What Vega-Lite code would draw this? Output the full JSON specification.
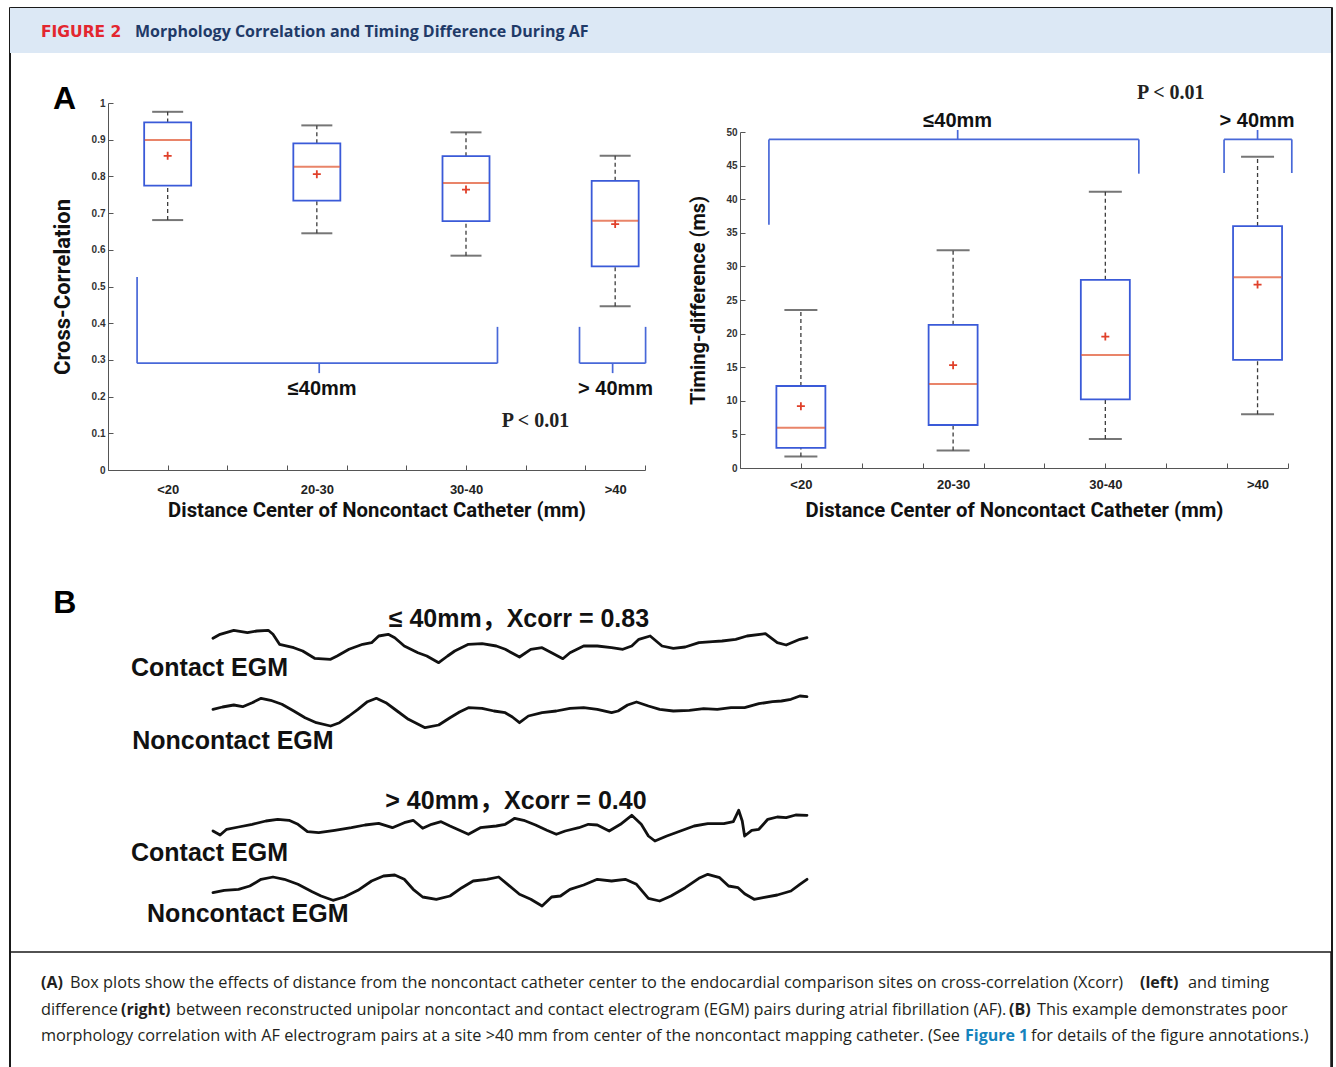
{
  "$schema": "https://vega.github.io/schema/vega-lite/v6.json",
  "padding": {"left": 8, "top": 6, "right": 0, "bottom": 0},
  "background": "white",
  "config": {"view": {"stroke": null}, "font": "Roboto", "scale": {"continuousPadding": 0}},
  "datasets": {
    "xcorr": [
      {"pos": 1, "lo": 0.681, "q1": 0.775, "med": 0.899, "q3": 0.947, "hi": 0.976, "mean": 0.856},
      {"pos": 2, "lo": 0.645, "q1": 0.734, "med": 0.826, "q3": 0.890, "hi": 0.939, "mean": 0.806},
      {"pos": 3, "lo": 0.584, "q1": 0.678, "med": 0.782, "q3": 0.855, "hi": 0.920, "mean": 0.764},
      {"pos": 4, "lo": 0.446, "q1": 0.555, "med": 0.679, "q3": 0.788, "hi": 0.856, "mean": 0.670}
    ],
    "timing": [
      {"pos": 1, "lo": 1.7, "q1": 3.0, "med": 6.0, "q3": 12.2, "hi": 23.5, "mean": 9.2},
      {"pos": 2, "lo": 2.6, "q1": 6.4, "med": 12.5, "q3": 21.3, "hi": 32.4, "mean": 15.3},
      {"pos": 3, "lo": 4.3, "q1": 10.2, "med": 16.8, "q3": 28.0, "hi": 41.1, "mean": 19.55},
      {"pos": 4, "lo": 8.0, "q1": 16.1, "med": 28.4, "q3": 36.0, "hi": 46.3, "mean": 27.3}
    ],
    "bracketL": [
      {"x1": 0.795, "x2": 0.795, "y1": 0.526, "y2": 0.291},
      {"x1": 0.795, "x2": 3.211, "y1": 0.291, "y2": 0.291},
      {"x1": 3.211, "x2": 3.211, "y1": 0.291, "y2": 0.39},
      {"x1": 2.016, "x2": 2.016, "y1": 0.291, "y2": 0.264},
      {"x1": 3.761, "x2": 3.761, "y1": 0.39, "y2": 0.291},
      {"x1": 3.761, "x2": 4.204, "y1": 0.291, "y2": 0.291},
      {"x1": 4.204, "x2": 4.204, "y1": 0.291, "y2": 0.39},
      {"x1": 3.983, "x2": 3.983, "y1": 0.291, "y2": 0.264}
    ],
    "bracketR": [
      {"x1": 0.79, "x2": 0.79, "y1": 36.2, "y2": 48.9},
      {"x1": 0.79, "x2": 3.22, "y1": 48.9, "y2": 48.9},
      {"x1": 3.22, "x2": 3.22, "y1": 48.9, "y2": 43.8},
      {"x1": 2.03, "x2": 2.03, "y1": 48.9, "y2": 50.3},
      {"x1": 3.78, "x2": 3.78, "y1": 43.9, "y2": 48.9},
      {"x1": 3.78, "x2": 4.225, "y1": 48.9, "y2": 48.9},
      {"x1": 4.225, "x2": 4.225, "y1": 48.9, "y2": 43.9},
      {"x1": 4.0, "x2": 4.0, "y1": 48.9, "y2": 50.3}
    ],
    "egm": [
      {"trace": "c1", "t": 0, "v": 31.37}, {"trace": "c1", "t": 1.2, "v": 31.77}, {"trace": "c1", "t": 3.5, "v": 32.17}, {"trace": "c1", "t": 5.8, "v": 31.93}, {"trace": "c1", "t": 7.4, "v": 32.1}, {"trace": "c1", "t": 9.3, "v": 32.17}, {"trace": "c1", "t": 10.1, "v": 31.77}, {"trace": "c1", "t": 11.2, "v": 30.77}, {"trace": "c1", "t": 13.6, "v": 30.43}, {"trace": "c1", "t": 15.1, "v": 30.1}, {"trace": "c1", "t": 17.1, "v": 29.37}, {"trace": "c1", "t": 19.8, "v": 29.27}, {"trace": "c1", "t": 20.9, "v": 29.6}, {"trace": "c1", "t": 22.9, "v": 30.27}, {"trace": "c1", "t": 25.2, "v": 30.77}, {"trace": "c1", "t": 26.7, "v": 30.93}, {"trace": "c1", "t": 27.9, "v": 31.6}, {"trace": "c1", "t": 29.5, "v": 31.77}, {"trace": "c1", "t": 30.6, "v": 31.43}, {"trace": "c1", "t": 32.2, "v": 30.6}, {"trace": "c1", "t": 34.5, "v": 29.93}, {"trace": "c1", "t": 36.0, "v": 29.6}, {"trace": "c1", "t": 38.0, "v": 28.93}, {"trace": "c1", "t": 39.5, "v": 29.6}, {"trace": "c1", "t": 40.7, "v": 30.1}, {"trace": "c1", "t": 43.0, "v": 30.77}, {"trace": "c1", "t": 45.3, "v": 30.83}, {"trace": "c1", "t": 47.7, "v": 30.6}, {"trace": "c1", "t": 49.2, "v": 30.27}, {"trace": "c1", "t": 51.6, "v": 29.5}, {"trace": "c1", "t": 53.5, "v": 30.27}, {"trace": "c1", "t": 55.4, "v": 30.43}, {"trace": "c1", "t": 57.0, "v": 29.93}, {"trace": "c1", "t": 58.9, "v": 29.33}, {"trace": "c1", "t": 60.1, "v": 29.93}, {"trace": "c1", "t": 62.4, "v": 30.6}, {"trace": "c1", "t": 64.7, "v": 30.6}, {"trace": "c1", "t": 67.1, "v": 30.43}, {"trace": "c1", "t": 69.0, "v": 30.27}, {"trace": "c1", "t": 70.5, "v": 30.6}, {"trace": "c1", "t": 71.7, "v": 31.27}, {"trace": "c1", "t": 73.6, "v": 31.6}, {"trace": "c1", "t": 75.6, "v": 30.6}, {"trace": "c1", "t": 77.5, "v": 30.37}, {"trace": "c1", "t": 79.5, "v": 30.5}, {"trace": "c1", "t": 81.8, "v": 30.93}, {"trace": "c1", "t": 84.1, "v": 31.03}, {"trace": "c1", "t": 85.7, "v": 31.1}, {"trace": "c1", "t": 88.0, "v": 31.27}, {"trace": "c1", "t": 89.9, "v": 31.6}, {"trace": "c1", "t": 93.0, "v": 31.83}, {"trace": "c1", "t": 95.0, "v": 30.93}, {"trace": "c1", "t": 96.5, "v": 30.7}, {"trace": "c1", "t": 98.8, "v": 31.27}, {"trace": "c1", "t": 100, "v": 31.43},
      {"trace": "n1", "t": 0, "v": 24.27}, {"trace": "n1", "t": 1.6, "v": 24.5}, {"trace": "n1", "t": 3.5, "v": 24.7}, {"trace": "n1", "t": 5.0, "v": 24.53}, {"trace": "n1", "t": 6.6, "v": 24.93}, {"trace": "n1", "t": 8.1, "v": 25.37}, {"trace": "n1", "t": 9.7, "v": 25.17}, {"trace": "n1", "t": 11.6, "v": 24.77}, {"trace": "n1", "t": 13.6, "v": 24.1}, {"trace": "n1", "t": 15.5, "v": 23.43}, {"trace": "n1", "t": 17.4, "v": 22.93}, {"trace": "n1", "t": 19.8, "v": 22.6}, {"trace": "n1", "t": 21.3, "v": 22.93}, {"trace": "n1", "t": 22.9, "v": 23.6}, {"trace": "n1", "t": 24.4, "v": 24.27}, {"trace": "n1", "t": 26.0, "v": 25.03}, {"trace": "n1", "t": 27.5, "v": 25.37}, {"trace": "n1", "t": 29.1, "v": 24.93}, {"trace": "n1", "t": 31.0, "v": 24.1}, {"trace": "n1", "t": 32.9, "v": 23.27}, {"trace": "n1", "t": 35.7, "v": 22.43}, {"trace": "n1", "t": 38.0, "v": 22.7}, {"trace": "n1", "t": 39.9, "v": 23.43}, {"trace": "n1", "t": 41.5, "v": 24.0}, {"trace": "n1", "t": 43.0, "v": 24.43}, {"trace": "n1", "t": 45.3, "v": 24.37}, {"trace": "n1", "t": 47.3, "v": 24.1}, {"trace": "n1", "t": 49.2, "v": 23.93}, {"trace": "n1", "t": 50.4, "v": 23.5}, {"trace": "n1", "t": 51.6, "v": 22.93}, {"trace": "n1", "t": 53.1, "v": 23.6}, {"trace": "n1", "t": 55.4, "v": 23.93}, {"trace": "n1", "t": 57.8, "v": 24.1}, {"trace": "n1", "t": 60.1, "v": 24.37}, {"trace": "n1", "t": 62.4, "v": 24.43}, {"trace": "n1", "t": 64.7, "v": 24.27}, {"trace": "n1", "t": 67.1, "v": 23.93}, {"trace": "n1", "t": 68.2, "v": 24.1}, {"trace": "n1", "t": 69.8, "v": 24.7}, {"trace": "n1", "t": 71.3, "v": 25.0}, {"trace": "n1", "t": 73.3, "v": 24.6}, {"trace": "n1", "t": 75.2, "v": 24.27}, {"trace": "n1", "t": 77.5, "v": 24.1}, {"trace": "n1", "t": 80.2, "v": 24.17}, {"trace": "n1", "t": 82.6, "v": 24.33}, {"trace": "n1", "t": 84.9, "v": 24.27}, {"trace": "n1", "t": 87.2, "v": 24.43}, {"trace": "n1", "t": 89.5, "v": 24.43}, {"trace": "n1", "t": 91.9, "v": 24.83}, {"trace": "n1", "t": 94.2, "v": 25.03}, {"trace": "n1", "t": 95.7, "v": 25.1}, {"trace": "n1", "t": 97.3, "v": 25.27}, {"trace": "n1", "t": 98.8, "v": 25.6}, {"trace": "n1", "t": 100, "v": 25.53},
      {"trace": "c2", "t": 0, "v": 12.1}, {"trace": "c2", "t": 1.2, "v": 11.7}, {"trace": "c2", "t": 2.3, "v": 12.27}, {"trace": "c2", "t": 4.3, "v": 12.5}, {"trace": "c2", "t": 6.6, "v": 12.77}, {"trace": "c2", "t": 8.9, "v": 13.1}, {"trace": "c2", "t": 10.9, "v": 13.27}, {"trace": "c2", "t": 12.8, "v": 13.17}, {"trace": "c2", "t": 14.3, "v": 12.77}, {"trace": "c2", "t": 15.9, "v": 12.03}, {"trace": "c2", "t": 17.8, "v": 11.93}, {"trace": "c2", "t": 20.5, "v": 12.17}, {"trace": "c2", "t": 23.3, "v": 12.43}, {"trace": "c2", "t": 25.6, "v": 12.7}, {"trace": "c2", "t": 27.9, "v": 12.87}, {"trace": "c2", "t": 30.2, "v": 12.43}, {"trace": "c2", "t": 32.2, "v": 12.93}, {"trace": "c2", "t": 33.7, "v": 13.17}, {"trace": "c2", "t": 35.3, "v": 12.37}, {"trace": "c2", "t": 36.8, "v": 12.77}, {"trace": "c2", "t": 38.4, "v": 13.03}, {"trace": "c2", "t": 39.9, "v": 12.6}, {"trace": "c2", "t": 41.5, "v": 12.17}, {"trace": "c2", "t": 43.0, "v": 11.77}, {"trace": "c2", "t": 45.0, "v": 12.43}, {"trace": "c2", "t": 47.7, "v": 12.6}, {"trace": "c2", "t": 49.2, "v": 12.77}, {"trace": "c2", "t": 50.8, "v": 13.37}, {"trace": "c2", "t": 52.3, "v": 13.17}, {"trace": "c2", "t": 54.3, "v": 12.7}, {"trace": "c2", "t": 56.2, "v": 12.17}, {"trace": "c2", "t": 57.8, "v": 11.77}, {"trace": "c2", "t": 59.3, "v": 12.1}, {"trace": "c2", "t": 61.6, "v": 12.43}, {"trace": "c2", "t": 63.2, "v": 12.77}, {"trace": "c2", "t": 64.7, "v": 12.7}, {"trace": "c2", "t": 66.7, "v": 12.1}, {"trace": "c2", "t": 68.6, "v": 12.77}, {"trace": "c2", "t": 70.5, "v": 13.67}, {"trace": "c2", "t": 72.1, "v": 12.77}, {"trace": "c2", "t": 73.3, "v": 11.6}, {"trace": "c2", "t": 74.4, "v": 11.1}, {"trace": "c2", "t": 76.4, "v": 11.6}, {"trace": "c2", "t": 78.7, "v": 12.1}, {"trace": "c2", "t": 81.0, "v": 12.6}, {"trace": "c2", "t": 83.3, "v": 12.83}, {"trace": "c2", "t": 86.0, "v": 12.83}, {"trace": "c2", "t": 87.6, "v": 13.03}, {"trace": "c2", "t": 88.5, "v": 14.17}, {"trace": "c2", "t": 89.1, "v": 13.1}, {"trace": "c2", "t": 89.5, "v": 11.6}, {"trace": "c2", "t": 90.7, "v": 12.17}, {"trace": "c2", "t": 91.9, "v": 12.27}, {"trace": "c2", "t": 93.4, "v": 13.27}, {"trace": "c2", "t": 95.0, "v": 13.5}, {"trace": "c2", "t": 96.5, "v": 13.43}, {"trace": "c2", "t": 98.1, "v": 13.7}, {"trace": "c2", "t": 100, "v": 13.67},
      {"trace": "n2", "t": 0, "v": 5.93}, {"trace": "n2", "t": 1.9, "v": 6.17}, {"trace": "n2", "t": 4.3, "v": 6.27}, {"trace": "n2", "t": 6.2, "v": 6.6}, {"trace": "n2", "t": 8.1, "v": 7.27}, {"trace": "n2", "t": 10.1, "v": 7.5}, {"trace": "n2", "t": 12.0, "v": 7.27}, {"trace": "n2", "t": 14.3, "v": 6.77}, {"trace": "n2", "t": 16.7, "v": 6.03}, {"trace": "n2", "t": 18.2, "v": 5.6}, {"trace": "n2", "t": 20.2, "v": 5.17}, {"trace": "n2", "t": 22.1, "v": 5.5}, {"trace": "n2", "t": 24.4, "v": 6.17}, {"trace": "n2", "t": 26.7, "v": 7.1}, {"trace": "n2", "t": 28.7, "v": 7.6}, {"trace": "n2", "t": 30.6, "v": 7.7}, {"trace": "n2", "t": 32.2, "v": 7.27}, {"trace": "n2", "t": 33.7, "v": 6.27}, {"trace": "n2", "t": 35.3, "v": 5.5}, {"trace": "n2", "t": 37.6, "v": 5.27}, {"trace": "n2", "t": 39.9, "v": 5.6}, {"trace": "n2", "t": 41.9, "v": 6.43}, {"trace": "n2", "t": 43.8, "v": 7.1}, {"trace": "n2", "t": 46.1, "v": 7.27}, {"trace": "n2", "t": 48.1, "v": 7.5}, {"trace": "n2", "t": 49.6, "v": 6.77}, {"trace": "n2", "t": 51.6, "v": 5.77}, {"trace": "n2", "t": 53.5, "v": 5.27}, {"trace": "n2", "t": 55.4, "v": 4.6}, {"trace": "n2", "t": 57.0, "v": 5.5}, {"trace": "n2", "t": 58.5, "v": 5.6}, {"trace": "n2", "t": 60.1, "v": 6.27}, {"trace": "n2", "t": 62.4, "v": 6.7}, {"trace": "n2", "t": 64.7, "v": 7.27}, {"trace": "n2", "t": 67.1, "v": 7.1}, {"trace": "n2", "t": 69.4, "v": 7.27}, {"trace": "n2", "t": 71.3, "v": 6.77}, {"trace": "n2", "t": 73.3, "v": 5.37}, {"trace": "n2", "t": 75.2, "v": 5.1}, {"trace": "n2", "t": 77.1, "v": 5.6}, {"trace": "n2", "t": 79.5, "v": 6.43}, {"trace": "n2", "t": 81.8, "v": 7.37}, {"trace": "n2", "t": 83.3, "v": 7.77}, {"trace": "n2", "t": 85.3, "v": 7.43}, {"trace": "n2", "t": 86.8, "v": 6.6}, {"trace": "n2", "t": 88.4, "v": 6.43}, {"trace": "n2", "t": 89.5, "v": 5.83}, {"trace": "n2", "t": 91.1, "v": 5.27}, {"trace": "n2", "t": 92.6, "v": 5.43}, {"trace": "n2", "t": 95.0, "v": 5.7}, {"trace": "n2", "t": 97.3, "v": 6.1}, {"trace": "n2", "t": 98.8, "v": 6.77}, {"trace": "n2", "t": 100, "v": 7.27}
    ]
  },
  "hconcat": [
    {"width": 1, "height": 1065, "data": {"values": []}, "mark": "point", "encoding": {}, "view": {"stroke": "#1a1a1a", "strokeWidth": 1}},
    {
      "vconcat": [
        {"width": 1321, "height": 1, "data": {"values": []}, "mark": "point", "encoding": {}, "view": {"stroke": "#1a1a1a", "strokeWidth": 1}},
        {
          "width": 1321, "height": 45,
          "view": {"fill": "#dce8f5", "stroke": null},
          "layer": [
            {
              "data": {"values": [{"pos": 31, "line": 24, "label": "FIGURE 2"}]},
              "mark": {"type": "text", "align": "left", "baseline": "middle", "font": "DejaVu Sans", "fontWeight": "bold", "fontSize": 15.5, "color": "#e3262f"},
              "encoding": {
                "x": {"field": "pos", "type": "quantitative", "scale": {"domain": [0, 1321]}, "axis": null},
                "y": {"field": "line", "type": "quantitative", "scale": {"domain": [0, 45], "reverse": true}, "axis": null},
                "text": {"field": "label"}
              }
            },
            {
              "data": {"values": [{"pos": 125, "line": 24, "label": "Morphology Correlation and Timing Difference During AF"}]},
              "mark": {"type": "text", "align": "left", "baseline": "middle", "font": "Open Sans", "fontWeight": "bold", "fontSize": 16, "color": "#1f3a68"},
              "encoding": {
                "x": {"field": "pos", "type": "quantitative", "scale": {"domain": [0, 1321]}, "axis": null},
                "y": {"field": "line", "type": "quantitative", "scale": {"domain": [0, 45], "reverse": true}, "axis": null},
                "text": {"field": "label"}
              }
            }
          ]
        },
        {
          "hconcat": [
            {"width": 4, "height": 1, "data": {"values": []}, "mark": "point", "encoding": {}},
            {
              "vconcat": [
                {"width": 1, "height": 50, "data": {"values": []}, "mark": "point", "encoding": {}},
                {
                  "width": 537, "height": 367,
                  "data": {"name": "xcorr"},
                  "resolve": {"axis": {"x": "independent", "y": "independent"}},
                  "layer": [
                    {
                      "mark": {"type": "rule", "color": "#3c3c3c", "strokeWidth": 1.3, "strokeDash": [4, 3]},
                      "encoding": {
                        "x": {"field": "pos", "type": "quantitative", "scale": {"domain": [0.6, 4.2], "nice": false, "zero": false, "padding": 0},
                          "axis": {"orient": "bottom", "values": [0.6, 1, 1.4, 1.8, 2.2, 2.6, 3, 3.4, 3.8, 4.2], "labels": false, "tickSize": -5, "tickColor": "#555", "domainColor": "#555", "grid": false, "title": null}},
                        "y": {"field": "q3", "type": "quantitative", "scale": {"domain": [0, 1], "nice": false, "zero": false, "padding": 0},
                          "axis": {"orient": "left", "values": [0, 0.1, 0.2, 0.3, 0.4, 0.5, 0.6, 0.7, 0.8, 0.9, 1], "format": "~g", "tickSize": -5, "tickColor": "#555", "domainColor": "#555", "grid": false, "labelFont": "Liberation Sans", "labelFontSize": 10, "labelFontWeight": "bold", "labelColor": "#333", "labelPadding": 8, "labelFlush": false, "labelOverlap": false, "title": "Cross-Correlation", "titleFont": "Roboto", "titleFontSize": 22, "titleFontWeight": "bold", "titleColor": "#111", "titlePadding": 17}},
                        "y2": {"field": "hi"}
                      }
                    },
                    {
                      "mark": {"type": "rule", "color": "#3c3c3c", "strokeWidth": 1.3, "strokeDash": [4, 3]},
                      "encoding": {
                        "x": {"field": "pos", "type": "quantitative", "scale": {"domain": [0.6, 4.2], "nice": false, "zero": false, "padding": 0},
                          "axis": {"orient": "bottom", "values": [1, 2, 3, 4], "labelExpr": "datum.value == 1 ? '<20' : datum.value == 2 ? '20-30' : datum.value == 3 ? '30-40' : '>40'", "ticks": false, "domain": false, "grid": false, "labelPadding": 13, "labelFont": "Liberation Sans", "labelFontSize": 13, "labelFontWeight": "bold", "labelColor": "#222", "labelFlush": false, "labelOverlap": false, "title": "Distance Center of Noncontact Catheter (mm)", "titleFont": "Roboto", "titleFontSize": 20.3, "titleFontWeight": "bold", "titleColor": "#111", "titlePadding": 4}},
                        "y": {"field": "lo", "type": "quantitative", "scale": {"domain": [0, 1], "nice": false, "zero": false, "padding": 0}, "axis": null},
                        "y2": {"field": "q1"}
                      }
                    },
                    {
                      "mark": {"type": "tick", "orient": "horizontal", "size": 31, "thickness": 2, "color": "#3c3c3c"},
                      "encoding": {
                        "x": {"field": "pos", "type": "quantitative", "scale": {"domain": [0.6, 4.2], "nice": false, "zero": false, "padding": 0}, "axis": null},
                        "y": {"field": "hi", "type": "quantitative", "scale": {"domain": [0, 1], "nice": false, "zero": false, "padding": 0}, "axis": null}
                      }
                    },
                    {
                      "mark": {"type": "tick", "orient": "horizontal", "size": 31, "thickness": 2, "color": "#3c3c3c"},
                      "encoding": {
                        "x": {"field": "pos", "type": "quantitative", "scale": {"domain": [0.6, 4.2], "nice": false, "zero": false, "padding": 0}, "axis": null},
                        "y": {"field": "lo", "type": "quantitative", "scale": {"domain": [0, 1], "nice": false, "zero": false, "padding": 0}, "axis": null}
                      }
                    },
                    {
                      "mark": {"type": "bar", "orient": "vertical", "width": 47, "fill": "transparent", "stroke": "#3a5ad8", "strokeWidth": 1.8},
                      "encoding": {
                        "x": {"field": "pos", "type": "quantitative", "scale": {"domain": [0.6, 4.2], "nice": false, "zero": false, "padding": 0}, "axis": null},
                        "y": {"field": "q1", "type": "quantitative", "scale": {"domain": [0, 1], "nice": false, "zero": false, "padding": 0}, "axis": null},
                        "y2": {"field": "q3"}
                      }
                    },
                    {
                      "mark": {"type": "tick", "orient": "horizontal", "size": 46, "thickness": 2, "color": "#e0502a"},
                      "encoding": {
                        "x": {"field": "pos", "type": "quantitative", "scale": {"domain": [0.6, 4.2], "nice": false, "zero": false, "padding": 0}, "axis": null},
                        "y": {"field": "med", "type": "quantitative", "scale": {"domain": [0, 1], "nice": false, "zero": false, "padding": 0}, "axis": null}
                      }
                    },
                    {
                      "mark": {"type": "point", "shape": "M-1,0H1M0,-1V1", "size": 64, "filled": false, "color": "#e0402a", "strokeWidth": 1.8, "opacity": 1},
                      "encoding": {
                        "x": {"field": "pos", "type": "quantitative", "scale": {"domain": [0.6, 4.2], "nice": false, "zero": false, "padding": 0}, "axis": null},
                        "y": {"field": "mean", "type": "quantitative", "scale": {"domain": [0, 1], "nice": false, "zero": false, "padding": 0}, "axis": null}
                      }
                    },
                    {
                      "data": {"name": "bracketL"},
                      "mark": {"type": "rule", "color": "#4868d8", "strokeWidth": 1.7, "clip": false},
                      "encoding": {
                        "x": {"field": "x1", "type": "quantitative", "scale": {"domain": [0.6, 4.2], "nice": false, "zero": false, "padding": 0}, "axis": null},
                        "x2": {"field": "x2"},
                        "y": {"field": "y1", "type": "quantitative", "scale": {"domain": [0, 1], "nice": false, "zero": false, "padding": 0}, "axis": null},
                        "y2": {"field": "y2"}
                      }
                    },
                    {
                      "data": {"values": [{"x": 2.036, "y": 0.221, "label": "≤40mm"}, {"x": 4.003, "y": 0.221, "label": "> 40mm"}]},
                      "mark": {"type": "text", "align": "center", "baseline": "middle", "font": "Liberation Sans", "fontWeight": "bold", "fontSize": 20, "color": "#111", "clip": false},
                      "encoding": {
                        "x": {"field": "x", "type": "quantitative", "scale": {"domain": [0.6, 4.2], "nice": false, "zero": false, "padding": 0}, "axis": null},
                        "y": {"field": "y", "type": "quantitative", "scale": {"domain": [0, 1], "nice": false, "zero": false, "padding": 0}, "axis": null},
                        "text": {"field": "label"}
                      }
                    },
                    {
                      "data": {"values": [{"x": 3.466, "y": 0.1335, "label": "P < 0.01"}]},
                      "mark": {"type": "text", "align": "center", "baseline": "middle", "font": "Liberation Serif", "fontWeight": "bold", "fontSize": 20, "color": "#222", "clip": false},
                      "encoding": {
                        "x": {"field": "x", "type": "quantitative", "scale": {"domain": [0.6, 4.2], "nice": false, "zero": false, "padding": 0}, "axis": null},
                        "y": {"field": "y", "type": "quantitative", "scale": {"domain": [0, 1], "nice": false, "zero": false, "padding": 0}, "axis": null},
                        "text": {"field": "label"}
                      }
                    },
                    {
                      "data": {"values": [{"x": 0.231, "y": 1.011, "label": "A"}]},
                      "mark": {"type": "text", "align": "left", "baseline": "middle", "font": "Liberation Sans", "fontWeight": "bold", "fontSize": 32, "color": "#000", "clip": false},
                      "encoding": {
                        "x": {"field": "x", "type": "quantitative", "scale": {"domain": [0.6, 4.2], "nice": false, "zero": false, "padding": 0}, "axis": null},
                        "y": {"field": "y", "type": "quantitative", "scale": {"domain": [0, 1], "nice": false, "zero": false, "padding": 0}, "axis": null},
                        "text": {"field": "label"}
                      }
                    }
                  ]
                }
              ],
              "spacing": 0,
              "bounds": "flush"
            },
            {"width": 444, "height": 1, "data": {"values": []}, "mark": "point", "encoding": {}},
            {
              "vconcat": [
                {"width": 1, "height": 79, "data": {"values": []}, "mark": "point", "encoding": {}},
                {
                  "width": 548, "height": 336,
                  "data": {"name": "timing"},
                  "resolve": {"axis": {"x": "independent", "y": "independent"}},
                  "layer": [
                    {
                      "mark": {"type": "rule", "color": "#3c3c3c", "strokeWidth": 1.3, "strokeDash": [4, 3]},
                      "encoding": {
                        "x": {"field": "pos", "type": "quantitative", "scale": {"domain": [0.6, 4.2], "nice": false, "zero": false, "padding": 0},
                          "axis": {"orient": "bottom", "values": [0.6, 1, 1.4, 1.8, 2.2, 2.6, 3, 3.4, 3.8, 4.2], "labels": false, "tickSize": -5, "tickColor": "#555", "domainColor": "#555", "grid": false, "title": null}},
                        "y": {"field": "q3", "type": "quantitative", "scale": {"domain": [0, 50], "nice": false, "zero": false, "padding": 0},
                          "axis": {"orient": "left", "values": [0, 5, 10, 15, 20, 25, 30, 35, 40, 45, 50], "format": "d", "tickSize": -5, "tickColor": "#555", "domainColor": "#555", "grid": false, "labelFont": "Liberation Sans", "labelFontSize": 10, "labelFontWeight": "bold", "labelColor": "#333", "labelPadding": 8, "labelFlush": false, "labelOverlap": false, "title": "Timing-difference (ms)", "titleFont": "Roboto", "titleFontSize": 20, "titleFontWeight": "bold", "titleColor": "#111", "titlePadding": 17}},
                        "y2": {"field": "hi"}
                      }
                    },
                    {
                      "mark": {"type": "rule", "color": "#3c3c3c", "strokeWidth": 1.3, "strokeDash": [4, 3]},
                      "encoding": {
                        "x": {"field": "pos", "type": "quantitative", "scale": {"domain": [0.6, 4.2], "nice": false, "zero": false, "padding": 0},
                          "axis": {"orient": "bottom", "values": [1, 2, 3, 4], "labelExpr": "datum.value == 1 ? '<20' : datum.value == 2 ? '20-30' : datum.value == 3 ? '30-40' : '>40'", "ticks": false, "domain": false, "grid": false, "labelPadding": 10, "labelFont": "Liberation Sans", "labelFontSize": 13, "labelFontWeight": "bold", "labelColor": "#222", "labelFlush": false, "labelOverlap": false, "title": "Distance Center of Noncontact Catheter (mm)", "titleFont": "Roboto", "titleFontSize": 20.3, "titleFontWeight": "bold", "titleColor": "#111", "titlePadding": 9}},
                        "y": {"field": "lo", "type": "quantitative", "scale": {"domain": [0, 50], "nice": false, "zero": false, "padding": 0}, "axis": null},
                        "y2": {"field": "q1"}
                      }
                    },
                    {
                      "mark": {"type": "tick", "orient": "horizontal", "size": 33, "thickness": 2, "color": "#3c3c3c"},
                      "encoding": {
                        "x": {"field": "pos", "type": "quantitative", "scale": {"domain": [0.6, 4.2], "nice": false, "zero": false, "padding": 0}, "axis": null},
                        "y": {"field": "hi", "type": "quantitative", "scale": {"domain": [0, 50], "nice": false, "zero": false, "padding": 0}, "axis": null}
                      }
                    },
                    {
                      "mark": {"type": "tick", "orient": "horizontal", "size": 33, "thickness": 2, "color": "#3c3c3c"},
                      "encoding": {
                        "x": {"field": "pos", "type": "quantitative", "scale": {"domain": [0.6, 4.2], "nice": false, "zero": false, "padding": 0}, "axis": null},
                        "y": {"field": "lo", "type": "quantitative", "scale": {"domain": [0, 50], "nice": false, "zero": false, "padding": 0}, "axis": null}
                      }
                    },
                    {
                      "mark": {"type": "bar", "orient": "vertical", "width": 49, "fill": "transparent", "stroke": "#3a5ad8", "strokeWidth": 1.8},
                      "encoding": {
                        "x": {"field": "pos", "type": "quantitative", "scale": {"domain": [0.6, 4.2], "nice": false, "zero": false, "padding": 0}, "axis": null},
                        "y": {"field": "q1", "type": "quantitative", "scale": {"domain": [0, 50], "nice": false, "zero": false, "padding": 0}, "axis": null},
                        "y2": {"field": "q3"}
                      }
                    },
                    {
                      "mark": {"type": "tick", "orient": "horizontal", "size": 48, "thickness": 2, "color": "#e0502a"},
                      "encoding": {
                        "x": {"field": "pos", "type": "quantitative", "scale": {"domain": [0.6, 4.2], "nice": false, "zero": false, "padding": 0}, "axis": null},
                        "y": {"field": "med", "type": "quantitative", "scale": {"domain": [0, 50], "nice": false, "zero": false, "padding": 0}, "axis": null}
                      }
                    },
                    {
                      "mark": {"type": "point", "shape": "M-1,0H1M0,-1V1", "size": 64, "filled": false, "color": "#e0402a", "strokeWidth": 1.8, "opacity": 1},
                      "encoding": {
                        "x": {"field": "pos", "type": "quantitative", "scale": {"domain": [0.6, 4.2], "nice": false, "zero": false, "padding": 0}, "axis": null},
                        "y": {"field": "mean", "type": "quantitative", "scale": {"domain": [0, 50], "nice": false, "zero": false, "padding": 0}, "axis": null}
                      }
                    },
                    {
                      "data": {"name": "bracketR"},
                      "mark": {"type": "rule", "color": "#4868d8", "strokeWidth": 1.7, "clip": false},
                      "encoding": {
                        "x": {"field": "x1", "type": "quantitative", "scale": {"domain": [0.6, 4.2], "nice": false, "zero": false, "padding": 0}, "axis": null},
                        "x2": {"field": "x2"},
                        "y": {"field": "y1", "type": "quantitative", "scale": {"domain": [0, 50], "nice": false, "zero": false, "padding": 0}, "axis": null},
                        "y2": {"field": "y2"}
                      }
                    },
                    {
                      "data": {"values": [{"x": 2.03, "y": 51.6, "label": "≤40mm"}, {"x": 3.997, "y": 51.6, "label": "> 40mm"}]},
                      "mark": {"type": "text", "align": "center", "baseline": "middle", "font": "Liberation Sans", "fontWeight": "bold", "fontSize": 20, "color": "#111", "clip": false},
                      "encoding": {
                        "x": {"field": "x", "type": "quantitative", "scale": {"domain": [0.6, 4.2], "nice": false, "zero": false, "padding": 0}, "axis": null},
                        "y": {"field": "y", "type": "quantitative", "scale": {"domain": [0, 50], "nice": false, "zero": false, "padding": 0}, "axis": null},
                        "text": {"field": "label"}
                      }
                    },
                    {
                      "data": {"values": [{"x": 3.43, "y": 55.8, "label": "P < 0.01"}]},
                      "mark": {"type": "text", "align": "center", "baseline": "middle", "font": "Liberation Serif", "fontWeight": "bold", "fontSize": 20, "color": "#222", "clip": false},
                      "encoding": {
                        "x": {"field": "x", "type": "quantitative", "scale": {"domain": [0.6, 4.2], "nice": false, "zero": false, "padding": 0}, "axis": null},
                        "y": {"field": "y", "type": "quantitative", "scale": {"domain": [0, 50], "nice": false, "zero": false, "padding": 0}, "axis": null},
                        "text": {"field": "label"}
                      }
                    }
                  ]
                }
              ],
              "spacing": 0,
              "bounds": "flush"
            }
          ],
          "spacing": 94,
          "bounds": "flush"
        },
        {"width": 1, "height": 417, "data": {"values": []}, "mark": "point", "encoding": {}},
        {
          "width": 1321, "height": 482,
          "layer": [
            {
              "data": {"name": "egm"},
              "mark": {"type": "line", "color": "#111", "strokeWidth": 2.8, "strokeJoin": "round", "strokeCap": "round", "clip": false},
              "encoding": {
                "x": {"field": "t", "type": "quantitative", "scale": {"domain": [-34.175, 188.22], "nice": false, "zero": false}, "axis": null},
                "y": {"field": "v", "type": "quantitative", "scale": {"domain": [0, 48.2], "nice": false, "zero": false}, "axis": null},
                "detail": {"field": "trace"}
              }
            },
            {
              "data": {"values": [
                {"t": 51.5, "v": 33.3, "label": "≤ 40mm，Xcorr = 0.83"},
                {"t": 51.0, "v": 15.1, "label": "> 40mm，Xcorr = 0.40"}
              ]},
              "mark": {"type": "text", "align": "center", "baseline": "middle", "font": "Liberation Sans, Noto Sans CJK SC", "fontWeight": "bold", "fontSize": 25, "color": "#111"},
              "encoding": {
                "x": {"field": "t", "type": "quantitative", "scale": {"domain": [-34.175, 188.22], "nice": false, "zero": false}, "axis": null},
                "y": {"field": "v", "type": "quantitative", "scale": {"domain": [0, 48.2], "nice": false, "zero": false}, "axis": null},
                "text": {"field": "label"}
              }
            },
            {
              "data": {"values": [
                {"t": -13.8, "v": 28.4, "label": "Contact EGM"},
                {"t": -13.6, "v": 21.1, "label": "Noncontact EGM"},
                {"t": -13.8, "v": 9.9, "label": "Contact EGM"},
                {"t": -11.1, "v": 3.8, "label": "Noncontact EGM"}
              ]},
              "mark": {"type": "text", "align": "left", "baseline": "middle", "font": "Liberation Sans", "fontWeight": "bold", "fontSize": 25, "color": "#111"},
              "encoding": {
                "x": {"field": "t", "type": "quantitative", "scale": {"domain": [-34.175, 188.22], "nice": false, "zero": false}, "axis": null},
                "y": {"field": "v", "type": "quantitative", "scale": {"domain": [0, 48.2], "nice": false, "zero": false}, "axis": null},
                "text": {"field": "label"}
              }
            },
            {
              "data": {"values": [{"t": -26.9, "v": 34.9, "label": "B"}]},
              "mark": {"type": "text", "align": "left", "baseline": "middle", "font": "Liberation Sans", "fontWeight": "bold", "fontSize": 32, "color": "#000"},
              "encoding": {
                "x": {"field": "t", "type": "quantitative", "scale": {"domain": [-34.175, 188.22], "nice": false, "zero": false}, "axis": null},
                "y": {"field": "v", "type": "quantitative", "scale": {"domain": [0, 48.2], "nice": false, "zero": false}, "axis": null},
                "text": {"field": "label"}
              }
            }
          ]
        },
        {
          "width": 1321, "height": 120,
          "view": {"stroke": "#1a1a1a", "strokeWidth": 1.5},
          "layer": [
            {
              "data": {"values": [
                {"pos": 60, "line": 31, "label": "Box plots show the effects of distance from the noncontact catheter center to the endocardial comparison sites on cross-correlation (Xcorr)"},
                {"pos": 1178, "line": 31, "label": "and timing"},
                {"pos": 31, "line": 58, "label": "difference"},
                {"pos": 166, "line": 58, "label": "between reconstructed unipolar noncontact and contact electrogram (EGM) pairs during atrial fibrillation (AF)."},
                {"pos": 1027, "line": 58, "label": "This example demonstrates poor"},
                {"pos": 31, "line": 84, "label": "morphology correlation with AF electrogram pairs at a site >40 mm from center of the noncontact mapping catheter. (See"},
                {"pos": 1021, "line": 84, "label": "for details of the figure annotations.)"}
              ]},
              "mark": {"type": "text", "align": "left", "baseline": "middle", "font": "Open Sans", "fontSize": 16.3, "color": "#231f20"},
              "encoding": {
                "x": {"field": "pos", "type": "quantitative", "scale": {"domain": [0, 1321]}, "axis": null},
                "y": {"field": "line", "type": "quantitative", "scale": {"domain": [0, 120], "reverse": true}, "axis": null},
                "text": {"field": "label"}
              }
            },
            {
              "data": {"values": [
                {"pos": 31, "line": 31, "label": "(A)"},
                {"pos": 1130, "line": 31, "label": "(left)"},
                {"pos": 111, "line": 58, "label": "(right)"},
                {"pos": 999, "line": 58, "label": "(B)"}
              ]},
              "mark": {"type": "text", "align": "left", "baseline": "middle", "font": "Open Sans", "fontWeight": "bold", "fontSize": 16, "color": "#231f20"},
              "encoding": {
                "x": {"field": "pos", "type": "quantitative", "scale": {"domain": [0, 1321]}, "axis": null},
                "y": {"field": "line", "type": "quantitative", "scale": {"domain": [0, 120], "reverse": true}, "axis": null},
                "text": {"field": "label"}
              }
            },
            {
              "data": {"values": [{"pos": 955, "line": 84, "label": "Figure 1"}]},
              "mark": {"type": "text", "align": "left", "baseline": "middle", "font": "Open Sans", "fontWeight": "bold", "fontSize": 16, "color": "#1583bd"},
              "encoding": {
                "x": {"field": "pos", "type": "quantitative", "scale": {"domain": [0, 1321]}, "axis": null},
                "y": {"field": "line", "type": "quantitative", "scale": {"domain": [0, 120], "reverse": true}, "axis": null},
                "text": {"field": "label"}
              }
            }
          ]
        }
      ],
      "spacing": 0,
      "bounds": "flush"
    },
    {"width": 1321, "height": 1, "data": {"values": []}, "mark": "point", "encoding": {}},
    {"width": 1, "height": 1065, "data": {"values": []}, "mark": "point", "encoding": {}, "view": {"stroke": "#1a1a1a", "strokeWidth": 1}}
  ],
  "spacing": 0,
  "bounds": "flush"
}
